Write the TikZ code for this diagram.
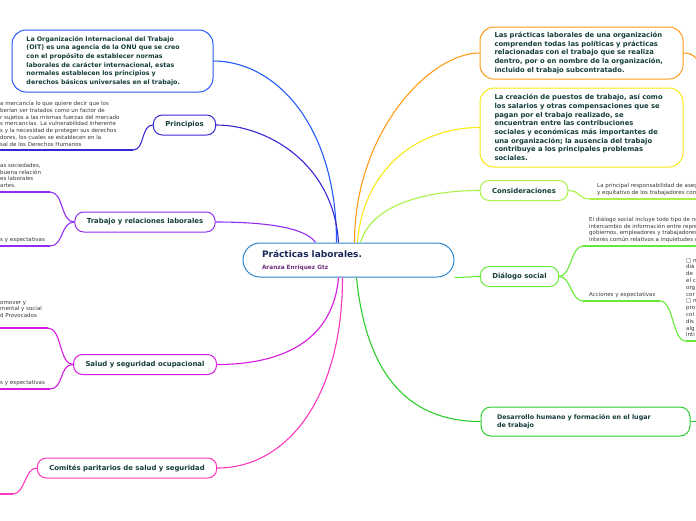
\documentclass[tikz,border=0pt]{standalone}
\usepackage{fontspec}
\setmainfont{DejaVu Sans}
\usepackage{xcolor}
\definecolor{centblue}{RGB}{45,135,205}
\definecolor{oitblue}{RGB}{35,90,250}
\definecolor{prinblue}{RGB}{55,40,215}
\definecolor{trabpurple}{RGB}{145,45,240}
\definecolor{salmag}{RGB}{215,25,225}
\definecolor{compink}{RGB}{255,55,190}
\definecolor{pracorg}{RGB}{255,155,25}
\definecolor{creayel}{RGB}{248,232,20}
\definecolor{conslime}{RGB}{170,240,70}
\definecolor{dialgrn}{RGB}{100,235,55}
\definecolor{desgrn}{RGB}{45,205,45}
\definecolor{boxtext}{RGB}{20,62,58}
\definecolor{titlenavy}{RGB}{25,40,90}
\definecolor{authpurple}{RGB}{110,45,125}
\definecolor{notegray}{RGB}{55,55,55}
\usetikzlibrary{positioning}
\tikzset{
  topicbox/.style={
    rectangle, draw, line width=1pt, fill=white,
    rounded corners=14pt, align=left, text=boxtext,
    font=\fontsize{6.8}{8.7}\selectfont\bfseries},
  labelbox/.style={
    rectangle, draw, line width=1pt, fill=white,
    rounded corners=9pt, minimum height=20pt, inner xsep=12pt,
    align=center, text=boxtext,
    font=\fontsize{6.9}{8}\selectfont\bfseries},
  centbox/.style={
    rectangle, draw=centblue, line width=1pt, fill=white,
    rounded corners=17pt, minimum width=211pt, minimum height=34pt,
    text width=173pt, inner xsep=19pt, align=left},
  notetext/.style={
    anchor=south west, inner sep=0pt, align=left, text=notegray,
    font=\fontsize{5.5}{6.8}\selectfont},
  branch/.style={line width=1.1pt},
  uline/.style={line width=1.8pt},
}
\begin{document}
\begin{tikzpicture}[x=1pt,y=-1pt]
  \useasboundingbox (0,0) rectangle (696,520);
  \clip (0,0) rectangle (696,520);

  % central topic
  \node[centbox] (cen) at (348.5,260)
    {\spaceskip=0pt\xspaceskip=0pt
     \fontsize{9}{12}\selectfont\bfseries\color{titlenavy}Prácticas laborales.\\
     \fontsize{5.8}{7}\selectfont\bfseries\color{authpurple}Aranza Enríquez Gtz};

  % left side
  \node[topicbox, draw=oitblue, text width=172pt, inner xsep=14.5pt,
        minimum height=62pt, font=\fontsize{6.3}{8.7}\selectfont\bfseries] (oit) at (112.5,61)
    {La Organización Internacional del Trabajo\\
     (OIT) es una agencia de la ONU que se creo\\
     con el propósito de establecer normas\\
     laborales de carácter internacional, estas\\
     normales establecen los principios y\\
     derechos básicos universales en el trabajo.};
  \node[labelbox, draw=prinblue] (prin) at (184.5,125) {Principios};
  \node[labelbox, draw=trabpurple] (trab) at (145,222)
    {Trabajo y relaciones laborales};
  \node[labelbox, draw=salmag] (salud) at (145,364.5)
    {Salud y seguridad ocupacional};
  \node[labelbox, draw=compink] (comi) at (127,468)
    {Comités paritarios de salud y seguridad};

  % right side
  \node[topicbox, draw=pracorg, text width=174pt, inner xsep=14.5pt,
        minimum height=52pt] (prac) at (581.5,53)
    {Las prácticas laborales de una organización\\
     comprenden todas las políticas y prácticas\\
     relacionadas con el trabajo que se realiza\\
     dentro, por o en nombre de la organización,\\
     incluido el trabajo subcontratado.};
  \node[topicbox, draw=creayel, text width=174pt, inner xsep=14.5pt,
        minimum height=79pt] (crea) at (581.5,127.5)
    {La creación de puestos de trabajo, así como\\
     los salarios y otras compensaciones que se\\
     pagan por el trabajo realizado, se\\
     encuentran entre las contribuciones\\
     sociales y económicas más importantes de\\
     una organización; la ausencia del trabajo\\
     contribuye a los principales problemas\\
     sociales.};
  \node[labelbox, draw=conslime] (cons) at (524,190.5) {Consideraciones};
  \node[labelbox, draw=dialgrn] (dial) at (519.5,276.5) {Diálogo social};
  \node[topicbox, draw=desgrn, rounded corners=10pt, text width=177pt, inner xsep=16pt,
        minimum height=29pt, font=\fontsize{6.4}{8.2}\selectfont\bfseries] (desa) at (585.5,421.5)
    {Desarrollo humano y formación en el lugar\\de trabajo};

  % branches from the centre
  \draw[branch, oitblue] ([xshift=-12pt]cen.north) .. controls +(0,-120) and +(60,0) .. (oit.east);
  \draw[branch, prinblue] ([xshift=-10pt]cen.north) .. controls +(-5,-80) and +(50,0) .. (prin.east);
  \draw[branch, trabpurple] ([xshift=-33pt]cen.north) .. controls +(-10,-15) and +(50,0) .. (trab.east);
  \draw[branch, salmag] ([xshift=-10pt]cen.south) .. controls +(-5,60) and +(70,0) .. (salud.east);
  \draw[branch, compink] ([xshift=-6pt]cen.south) .. controls +(0,120) and +(70,0) .. (comi.east);
  \draw[branch, pracorg] ([xshift=6pt]cen.north) .. controls +(0,-110) and +(-50,0) .. (prac.west);
  \draw[branch, creayel] ([xshift=9pt]cen.north) .. controls +(5,-70) and +(-65,0) .. (crea.west);
  \draw[branch, conslime] ([xshift=12pt]cen.north) .. controls +(10,-35) and +(-60,0) .. (cons.west);
  \draw[branch, dialgrn] (cen.south east) .. controls +(10,0) and +(-10,0) .. (dial.west);
  \draw[branch, desgrn] ([xshift=8pt]cen.south) .. controls +(10,100) and +(-70,0) .. (desa.west);

  % sub-topics, left
  \coordinate (prinU) at (133,150);  \coordinate (prinE) at (0,150);
  \coordinate (trabU) at (50,192);   \coordinate (trabUE) at (0,192);
  \coordinate (trabD) at (50,246);   \coordinate (trabDE) at (0,246);
  \coordinate (saludU) at (48,328);  \coordinate (saludUE) at (0,328);
  \coordinate (saludD) at (50,389);  \coordinate (saludDE) at (0,389);
  \coordinate (comiU) at (13,494);   \coordinate (comiE) at (0,494);

  \draw[branch, prinblue] (prin.west) .. controls +(-12,0) and +(12,0) .. (prinU);
  \draw[uline, prinblue] (prinU) -- (prinE);
  \draw[branch, trabpurple] (trab.west) .. controls +(-14,0) and +(14,0) .. (trabU);
  \draw[uline, trabpurple] (trabU) -- (trabUE);
  \draw[branch, trabpurple] (trab.west) .. controls +(-14,0) and +(14,0) .. (trabD);
  \draw[uline, trabpurple] (trabD) -- (trabDE);
  \draw[branch, salmag] (salud.west) .. controls +(-14,0) and +(14,0) .. (saludU);
  \draw[uline, salmag] (saludU) -- (saludUE);
  \draw[branch, salmag] (salud.west) .. controls +(-14,0) and +(14,0) .. (saludD);
  \draw[uline, salmag] (saludD) -- (saludDE);
  \draw[branch, compink] (comi.west) .. controls +(-12,0) and +(12,0) .. (comiU);
  \draw[uline, compink] (comiU) -- (comiE);

  \node[notetext] (prinT) at (0,146.5)
    {a mercancía lo que quiere decir que los\\
     berían ser tratados como un factor de\\
     r sujetos a las mismas fuerzas del mercado\\
     s mercancías. La vulnerabilidad inherente\\
     s y la necesidad de proteger sus derechos\\
     dores, los cuales se establecen en la\\
     sal de los Derechos Humanos};
  \node[notetext] (trabTU) at (0,188)
    {as sociedades,\\ buena relación\\ es laborales\\ artes.};
  \node[notetext] (trabTD) at (0,243) {s y expectativas};
  \node[notetext] (saludTU) at (0,318)
    {omover y\\ mental y social\\ d Provocados};
  \node[notetext] (saludTD) at (0,386) {s y expectativas};

  % sub-topics, right
  \coordinate (pracR) at (699,62);
  \coordinate (desaR) at (699,421.5);
  \coordinate (consU) at (590,199);  \coordinate (consE) at (699,199);
  \coordinate (dialU) at (583,246);  \coordinate (dialUE) at (699,246);
  \coordinate (dialD) at (583,301);  \coordinate (dialM) at (660,301);
  \coordinate (dialN) at (686,341);  \coordinate (dialNE) at (699,341);

  \draw[branch, pracorg] (prac.east) .. controls +(8,0) and +(-4,-6) .. (pracR);
  \draw[branch, desgrn] (desa.east) -- (desaR);
  \draw[branch, conslime] (cons.east) .. controls +(12,0) and +(-12,0) .. (consU);
  \draw[uline, conslime] (consU) -- (consE);
  \draw[branch, dialgrn] (dial.east) .. controls +(12,0) and +(-12,0) .. (dialU);
  \draw[uline, dialgrn] (dialU) -- (dialUE);
  \draw[branch, dialgrn] (dial.east) .. controls +(12,0) and +(-12,0) .. (dialD);
  \draw[uline, dialgrn] (dialD) -- (dialM);
  \draw[branch, dialgrn] (dialM) .. controls +(14,0) and +(-14,0) .. (dialN);
  \draw[uline, dialgrn] (dialN) -- (dialNE);

  \node[notetext] (consT) at (597,196)
    {La principal responsabilidad de aseg\\ y equitativo de los trabajadores con};
  \node[notetext] (dialT) at (589,243)
    {El diálogo social incluye todo tipo de ne\\
     intercambio de información entre repre\\
     gobiernos, empleadores y trabajadores\\
     interés común relativos a inquietudes c};
  \node[notetext] (accT) at (589,298) {Acciones y expectativas};
  \node[notetext, font=\fontsize{5.5}{6.8}\selectfont] (accL) at (686,337)
    {□ n\\ diá\\ de\\ el c\\ org\\ cor\\ □ n\\ pro\\ col\\ dis\\ alg\\ inti};
\end{tikzpicture}
\end{document}
